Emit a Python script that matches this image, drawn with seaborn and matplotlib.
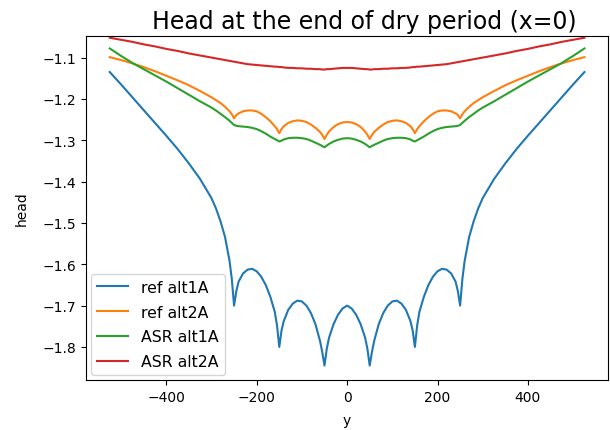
import numpy as np
import pandas as pd
import seaborn as sns
import matplotlib
matplotlib.use("Agg")
import matplotlib.pyplot as plt

# positions along the cross-section (x=0)
y_pos = [-525, -500, -475, -450, -425, -400, -375, -350, -325, -300, -290, -280, -270, -260, -255,
         -250, -245, -240, -230, -220, -210, -200, -190, -180, -170, -160, -155, -150, -145, -140,
         -130, -120, -110, -100, -90, -80, -70, -60, -55, -50, -45, -40, -30, -20, -10,
         0,
         10, 20, 30, 40, 45, 50, 55, 60, 70, 80, 90, 100, 110, 120, 130,
         140, 145, 150, 155, 160, 170, 180, 190, 200, 210, 220, 230, 240, 245, 250,
         255, 260, 270, 280, 290, 300, 325, 350, 375, 400, 425, 450, 475, 500, 525]

ref_alt1A = [-1.135, -1.165, -1.196, -1.227, -1.258, -1.289, -1.321, -1.356, -1.394, -1.440, -1.465, -1.496, -1.534, -1.592, -1.636,
             -1.700, -1.665, -1.642, -1.622, -1.613, -1.611, -1.617, -1.630, -1.650, -1.678, -1.715, -1.748, -1.800, -1.760, -1.737,
             -1.710, -1.695, -1.688, -1.690, -1.700, -1.718, -1.745, -1.785, -1.812, -1.845, -1.805, -1.778, -1.745, -1.722, -1.707,
             -1.700,
             -1.707, -1.722, -1.745, -1.778, -1.805, -1.845, -1.812, -1.785, -1.745, -1.718, -1.700, -1.690, -1.688, -1.695, -1.710,
             -1.737, -1.760, -1.800, -1.748, -1.715, -1.678, -1.650, -1.630, -1.617, -1.611, -1.613, -1.622, -1.642, -1.665, -1.700,
             -1.636, -1.592, -1.534, -1.496, -1.465, -1.440, -1.394, -1.356, -1.321, -1.289, -1.258, -1.227, -1.196, -1.165, -1.135]

ref_alt2A = [-1.099, -1.106, -1.114, -1.123, -1.133, -1.144, -1.155, -1.167, -1.181, -1.196, -1.203, -1.210, -1.219, -1.230, -1.237,
             -1.247, -1.239, -1.235, -1.230, -1.228, -1.228, -1.230, -1.236, -1.244, -1.254, -1.266, -1.273, -1.283, -1.273, -1.266,
             -1.258, -1.254, -1.252, -1.253, -1.256, -1.262, -1.270, -1.280, -1.287, -1.297, -1.287, -1.279, -1.268, -1.261, -1.257,
             -1.256,
             -1.257, -1.261, -1.268, -1.279, -1.287, -1.297, -1.287, -1.280, -1.270, -1.262, -1.256, -1.253, -1.252, -1.254, -1.258,
             -1.266, -1.273, -1.283, -1.273, -1.266, -1.254, -1.244, -1.236, -1.230, -1.228, -1.228, -1.230, -1.235, -1.239, -1.247,
             -1.237, -1.230, -1.219, -1.210, -1.203, -1.196, -1.181, -1.167, -1.155, -1.144, -1.133, -1.123, -1.114, -1.106, -1.099]

asr_alt1A = [-1.078, -1.096, -1.113, -1.128, -1.143, -1.158, -1.174, -1.190, -1.206, -1.221, -1.228, -1.236, -1.244, -1.253, -1.258,
             -1.263, -1.265, -1.266, -1.267, -1.268, -1.270, -1.273, -1.278, -1.284, -1.291, -1.297, -1.300, -1.303, -1.301, -1.298,
             -1.295, -1.294, -1.294, -1.295, -1.297, -1.301, -1.306, -1.311, -1.314, -1.317, -1.313, -1.309, -1.303, -1.299, -1.296,
             -1.295,
             -1.296, -1.299, -1.303, -1.309, -1.313, -1.317, -1.314, -1.311, -1.306, -1.301, -1.297, -1.295, -1.294, -1.294, -1.295,
             -1.298, -1.301, -1.303, -1.300, -1.297, -1.291, -1.284, -1.278, -1.273, -1.270, -1.268, -1.267, -1.266, -1.265, -1.263,
             -1.258, -1.253, -1.244, -1.236, -1.228, -1.221, -1.206, -1.190, -1.174, -1.158, -1.143, -1.128, -1.113, -1.096, -1.078]

asr_alt2A = [-1.052, -1.057, -1.062, -1.068, -1.073, -1.079, -1.084, -1.090, -1.095, -1.100, -1.102, -1.104, -1.106, -1.108, -1.109,
             -1.110, -1.111, -1.112, -1.114, -1.116, -1.117, -1.118, -1.119, -1.120, -1.121, -1.122, -1.122, -1.123, -1.123, -1.124,
             -1.125, -1.125, -1.126, -1.126, -1.127, -1.127, -1.128, -1.128, -1.129, -1.129, -1.128, -1.128, -1.127, -1.126, -1.125,
             -1.125,
             -1.125, -1.126, -1.127, -1.128, -1.128, -1.129, -1.129, -1.128, -1.128, -1.127, -1.127, -1.126, -1.126, -1.125, -1.125,
             -1.124, -1.123, -1.123, -1.122, -1.122, -1.121, -1.120, -1.119, -1.118, -1.117, -1.116, -1.114, -1.112, -1.111, -1.110,
             -1.109, -1.108, -1.106, -1.104, -1.102, -1.100, -1.095, -1.090, -1.084, -1.079, -1.073, -1.068, -1.062, -1.057, -1.052]

series = {
    'ref alt1A': ref_alt1A,
    'ref alt2A': ref_alt2A,
    'ASR alt1A': asr_alt1A,
    'ASR alt2A': asr_alt2A,
}

df = pd.DataFrame(series)
df['y'] = y_pos
df = df.melt(id_vars='y', var_name='run', value_name='head')

fig, ax = plt.subplots(figsize=(6.1, 4.31), dpi=100)
fig.subplots_adjust(left=0.141, right=0.997, bottom=0.116, top=0.914)

sns.lineplot(data=df, x='y', y='head', hue='run', palette='tab10', linewidth=1.5,
             sort=False, estimator=None, ax=ax)

ax.set_ylim(-1.88, -1.048)
ax.set_title('Head at the end of dry period (x=0)', fontsize=17, x=0.533)
ax.set_xlabel('y', fontsize=10, labelpad=7)
ax.set_ylabel('head', fontsize=10, labelpad=10)
ax.tick_params(labelsize=10)
ax.legend(loc='lower left', fontsize=11.3, labelspacing=0.62, borderaxespad=0.3)

fig.savefig('out.png', dpi=100)
